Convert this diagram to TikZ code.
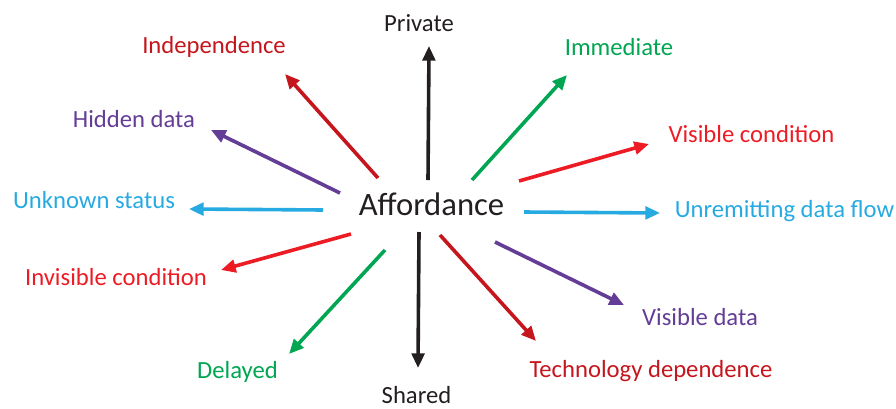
\documentclass[tikz,border=0pt]{standalone}
\usepackage{fontspec}
\setmainfont{Carlito}
\definecolor{dred}{HTML}{C4161C}
\definecolor{bred}{HTML}{ED1C24}
\definecolor{grn}{HTML}{00A651}
\definecolor{blu}{HTML}{27AAE1}
\definecolor{pur}{HTML}{633D96}
\definecolor{blk}{HTML}{231F20}
\usetikzlibrary{
  arrows.meta      % triangle tips
}
\tikzset{
    x=0.75pt, y=-0.75pt,
    every node/.style = {
        inner sep=0pt,
        anchor=base,
        font=\fontsize{18.5}{22}\selectfont
    },
    centre/.append style = {font=\fontsize{24.5}{29}\selectfont, text=blk},
    pole/.append style = {text=blk},
    spoke/.style = {->, line width=2.7pt},
    >={Triangle[length=11pt,width=9.5pt]}  % arrow type
}

\begin{document}
\begin{tikzpicture}
  \useasboundingbox (0,0) rectangle (896,408);

  %% centre
  \node [centre] (aff) at (431.5,215) {Affordance};

  %% labels
  \node [pole] (priv) at (419,31) {Private};
  \node [pole] (shar) at (416.5,403) {Shared};
  \node [text=dred] (indep) at (214,53) {Independence};
  \node [text=grn] (immed) at (619,55) {Immediate};
  \node [text=pur] (hidd) at (134,127) {Hidden data};
  \node [text=bred] (viscond) at (751.5,142) {Visible condition};
  \node [text=blu] (unkn) at (94,208) {Unknown status};
  \node [text=blu] (unrem) at (784.5,217) {Unremitting data flow};
  \node [text=bred] (invcond) at (116,285) {Invisible condition};
  \node [text=pur] (visdat) at (700,325) {Visible data};
  \node [text=grn] (delay) at (237.5,378) {Delayed};
  \node [text=dred] (techdep) at (651,377) {Technology dependence};

  %% arrow ends
  \coordinate (privA) at (428,180);   \coordinate (privB) at (429,46);
  \coordinate (sharA) at (419,232);   \coordinate (sharB) at (418,368);
  \coordinate (indepA) at (378,178);  \coordinate (indepB) at (285,74);
  \coordinate (immedA) at (472,180);  \coordinate (immedB) at (567,75);
  \coordinate (hiddA) at (340,193);   \coordinate (hiddB) at (211,130);
  \coordinate (viscondA) at (519,181); \coordinate (viscondB) at (649,144);
  \coordinate (unknA) at (323,210);   \coordinate (unknB) at (189,209);
  \coordinate (unremA) at (524,212);  \coordinate (unremB) at (660,213);
  \coordinate (invcondA) at (351,234); \coordinate (invcondB) at (221,270);
  \coordinate (delayA) at (385,250);  \coordinate (delayB) at (289,354);
  \coordinate (techdepA) at (440,235); \coordinate (techdepB) at (536,341);
  \coordinate (visdatA) at (495,242); \coordinate (visdatB) at (624,305);

  %% arrows
  \draw [spoke, blk] (privA) -- (privB);
  \draw [spoke, blk] (sharA) -- (sharB);
  \draw [spoke, dred] (indepA) -- (indepB);
  \draw [spoke, grn] (immedA) -- (immedB);
  \draw [spoke, pur] (hiddA) -- (hiddB);
  \draw [spoke, bred] (viscondA) -- (viscondB);
  \draw [spoke, blu] (unknA) -- (unknB);
  \draw [spoke, blu] (unremA) -- (unremB);
  \draw [spoke, bred] (invcondA) -- (invcondB);
  \draw [spoke, grn] (delayA) -- (delayB);
  \draw [spoke, dred] (techdepA) -- (techdepB);
  \draw [spoke, pur] (visdatA) -- (visdatB);

\end{tikzpicture}
\end{document}
